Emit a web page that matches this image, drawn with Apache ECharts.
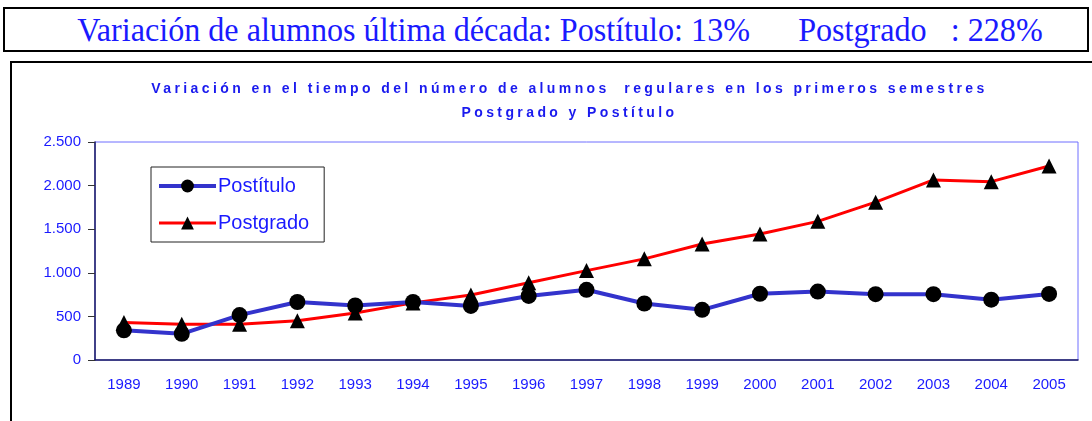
<!DOCTYPE html>
<html>
<head>
<meta charset="utf-8">
<script src="https://cdn.jsdelivr.net/npm/echarts@6/dist/echarts.min.js"></script>
<style>
  body { margin: 0; background: #fff; width: 1092px; height: 421px; overflow: hidden; position: relative; }
  #header {
    position: absolute; left: 3px; top: 7px; width: 1082px; height: 41px;
    border: 2px solid #000; overflow: hidden;
  }
  #header .txt {
    position: absolute; left: 13px; top: 2px; width: 100%; text-align: center;
    font-family: "Liberation Serif", "Times New Roman", serif; font-size: 34px;
    color: #1a1aff; white-space: pre; transform: scaleX(0.945); transform-origin: 558px 0;
  }
  #frame {
    position: absolute; left: 10px; top: 61px; width: 1120px; height: 400px;
    border: 2px solid #000;
  }
  #chart { position: absolute; left: 0; top: 0; width: 1078px; height: 400px; }
  .ttl {
    position: absolute; left: 0; width: 1115px; text-align: center;
    font-family: "Liberation Sans", Arial, sans-serif; font-weight: bold; font-size: 14px;
    letter-spacing: 3.4px; color: #1a1aee; white-space: pre;
  }
</style>
</head>
<body>
<div id="header"><div class="txt">Variación de alumnos última década: Postítulo: 13%      Postgrado   : 228%</div></div>
<div id="frame">
  <div id="chart"></div>
  <div class="ttl" style="top:17px">Variación en el tiempo del número de alumnos  regulares en los primeros semestres</div>
  <div class="ttl" style="top:41px">Postgrado y Postítulo</div>
</div>
<script>
// datos
var years = ['1989', '1990', '1991', '1992', '1993', '1994', '1995', '1996', '1997',
  '1998', '1999', '2000', '2001', '2002', '2003', '2004', '2005'];
var postitulo = [340, 300, 515, 665, 625, 665, 620, 735, 805, 648, 575, 760, 785, 755, 755, 692, 758];
var postgrado = [430, 410, 410, 450, 540, 655, 745, 885, 1025, 1160, 1330, 1445, 1590, 1810, 2065, 2045, 2225];
var yTicks = [0, 500, 1000, 1500, 2000, 2500];

var chart = echarts.init(document.getElementById('chart'));

function fmt(v) {
  // separador de miles con punto
  return String(v).replace(/\B(?=(\d{3})+(?!\d))/g, '.');
}

chart.setOption({
  animation: false,
  textStyle: { fontFamily: 'Liberation Sans, Arial, sans-serif' },
  grid: {
    left: 83, top: 79, width: 983, height: 218,
    show: true, borderColor: '#6e6eff', borderWidth: 1, backgroundColor: '#fff'
  },
  legend: {
    orient: 'vertical',
    left: 139, top: 104,
    padding: [9, 15, 9, 6],
    itemGap: 17,
    itemWidth: 57, itemHeight: 16,
    borderColor: '#222', borderWidth: 1,
    backgroundColor: '#fff',
    textStyle: { color: '#1a1aff', fontSize: 20, padding: [0, 0, 0, -3] },
    data: [
      { name: 'Postítulo', lineStyle: { width: 4 } },
      { name: 'Postgrado', lineStyle: { width: 3 } }
    ]
  },
  xAxis: {
    type: 'category',
    data: years,
    boundaryGap: true,
    axisLine: { lineStyle: { color: '#1a1a60', width: 1.5 } },
    axisTick: { length: 6, lineStyle: { color: '#333' } },
    axisLabel: { color: '#1a1aff', fontSize: 15, margin: 17 },
    splitLine: { show: false }
  },
  yAxis: {
    type: 'value',
    min: yTicks[0], max: yTicks[yTicks.length - 1], interval: 500,
    axisLine: { show: true, lineStyle: { color: '#1a1a60', width: 1.5 } },
    axisTick: { show: true, length: 7, lineStyle: { color: '#333' } },
    axisLabel: { color: '#1a1aff', fontSize: 15, margin: 14, formatter: fmt },
    splitLine: { show: false }
  },
  series: [
    {
      name: 'Postítulo',
      type: 'line',
      data: postitulo,
      symbol: 'circle',
      symbolSize: 16,
      lineStyle: { color: '#3333cc', width: 4 },
      itemStyle: { color: '#000', borderWidth: 0 },
      z: 3
    },
    {
      name: 'Postgrado',
      type: 'line',
      data: postgrado,
      symbol: 'triangle',
      symbolSize: 15,
      lineStyle: { color: '#ff0000', width: 3 },
      itemStyle: { color: '#000', borderWidth: 0 },
      z: 2
    }
  ]
});
</script>
</body>
</html>
